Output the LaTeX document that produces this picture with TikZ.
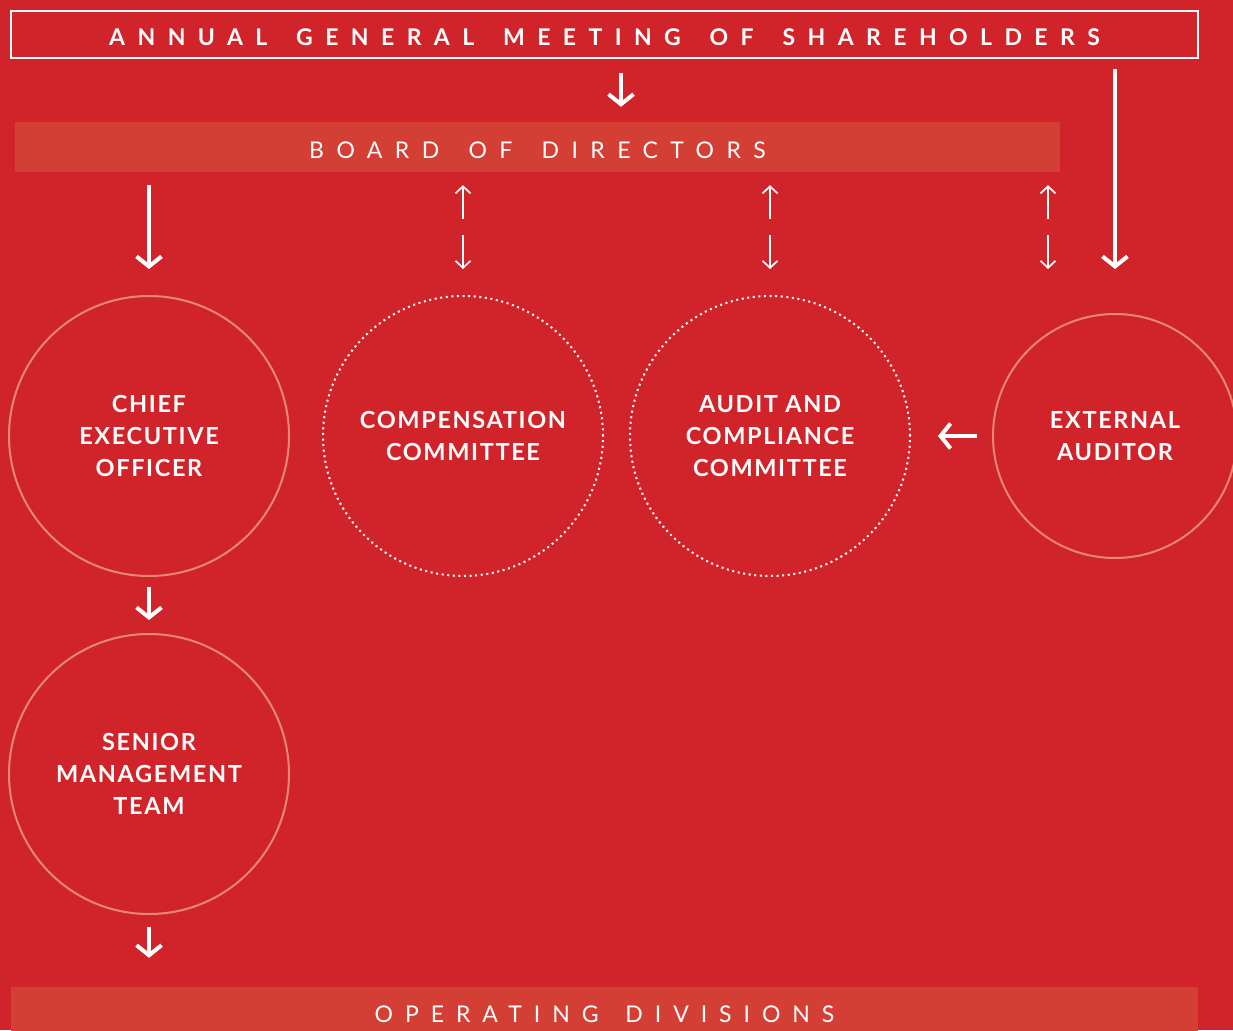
\documentclass[tikz,border=0pt]{standalone}
\usepackage{fontspec}
\setmainfont{Lato}
\usetikzlibrary{arrows.meta}

\definecolor{bgred}{HTML}{D1232A}
\definecolor{barred}{HTML}{D43F35}
\definecolor{ringline}{HTML}{E9896B}

\newfontfamily\widefont{Lato}[LetterSpace=54,WordSpace=1.6]
\newfontfamily\barfont{Lato}[LetterSpace=54,WordSpace=1.6]
\newfontfamily\opsfont{Lato}[LetterSpace=52,WordSpace=1.5]
\newfontfamily\ringfont{Lato}[LetterSpace=7]

\begin{document}
\begin{tikzpicture}[x=1pt,y=-1pt,
    bigarrow/.style={white,line width=4pt,-{Straight Barb[length=10pt,width=25pt]}},
    thinarrow/.style={white,line width=1.7pt,-{Straight Barb[length=7pt,width=15pt]}},
    ring/.style={circle,draw=ringline,line width=2pt,minimum size=280pt,inner sep=0pt,
        align=center,text=white,font=\fontsize{23.5}{32}\selectfont\ringfont\bfseries},
    dotring/.style={ring,draw=white,dash pattern=on 2pt off 3.6pt},
    bar/.style={fill=barred,text=white,inner sep=0pt}]
    \fill[bgred] (0,0) rectangle (1233,1030);
    \useasboundingbox (0,0) rectangle (1233,1030);
    \clip (0,0) rectangle (1233,1030);

    \node[draw=white,line width=2pt,minimum width=1187pt,minimum height=47pt,inner sep=0pt,
        text height=21.5pt,text depth=0pt,
        text=white,font=\fontsize{23}{26}\selectfont\widefont\bfseries] (agm) at (604.5,34.5)
        {ANNUAL GENERAL MEETING OF SHAREHOLDERS};
    \node[bar,minimum width=1045pt,minimum height=50pt,text height=22.5pt,text depth=0pt,
        font=\fontsize{23}{26}\selectfont\barfont] (board) at (537.5,147) {BOARD OF DIRECTORS};
    \node[bar,minimum width=1187pt,minimum height=55pt,font=\fontsize{23}{26}\selectfont\opsfont]
        (ops) at (604.5,1014.5) {OPERATING DIVISIONS};

    \node[ring] (ceo) at (149,436) {CHIEF\\EXECUTIVE\\OFFICER};
    \node[dotring] (comp) at (463,436) {COMPENSATION\\COMMITTEE};
    \node[dotring] (audit) at (770,436) {AUDIT AND\\COMPLIANCE\\COMMITTEE};
    \node[ring,minimum size=244pt] (extaud) at (1115,436) {EXTERNAL\\AUDITOR};
    \node[ring] (smt) at (149,774) {SENIOR\\MANAGEMENT\\TEAM};

    \draw[bigarrow,shorten <=14pt,shorten >=15pt] (621,0 |- agm.south) -- (621,0 |- board.north);
    \draw[bigarrow,shorten <=10pt,shorten >=44pt] (extaud.north |- agm.south) -- (extaud.north);
    \draw[bigarrow,shorten <=13pt,shorten >=26pt] (ceo.north |- board.south) -- (ceo.north);
    \draw[bigarrow,shorten <=10pt,shorten >=13pt] (ceo) -- (smt);
    \draw[bigarrow,shorten <=12pt,shorten >=29pt] (smt) -- (smt.south |- ops.north);
    \draw[bigarrow,shorten <=15pt,shorten >=27pt] (extaud.west) -- (audit.east);

    \foreach \n in {comp,audit} {
        \draw[thinarrow,shorten <=76pt,shorten >=13pt] (\n.north) -- (\n.north |- board.south);
        \draw[thinarrow,shorten <=63pt,shorten >=26pt] (\n.north |- board.south) -- (\n.north);
    }
    \draw[thinarrow,shorten <=76pt,shorten >=13pt] (1048,0 |- comp.north) -- (1048,0 |- board.south);
    \draw[thinarrow,shorten <=63pt,shorten >=26pt] (1048,0 |- board.south) -- (1048,0 |- comp.north);
\end{tikzpicture}
\end{document}
